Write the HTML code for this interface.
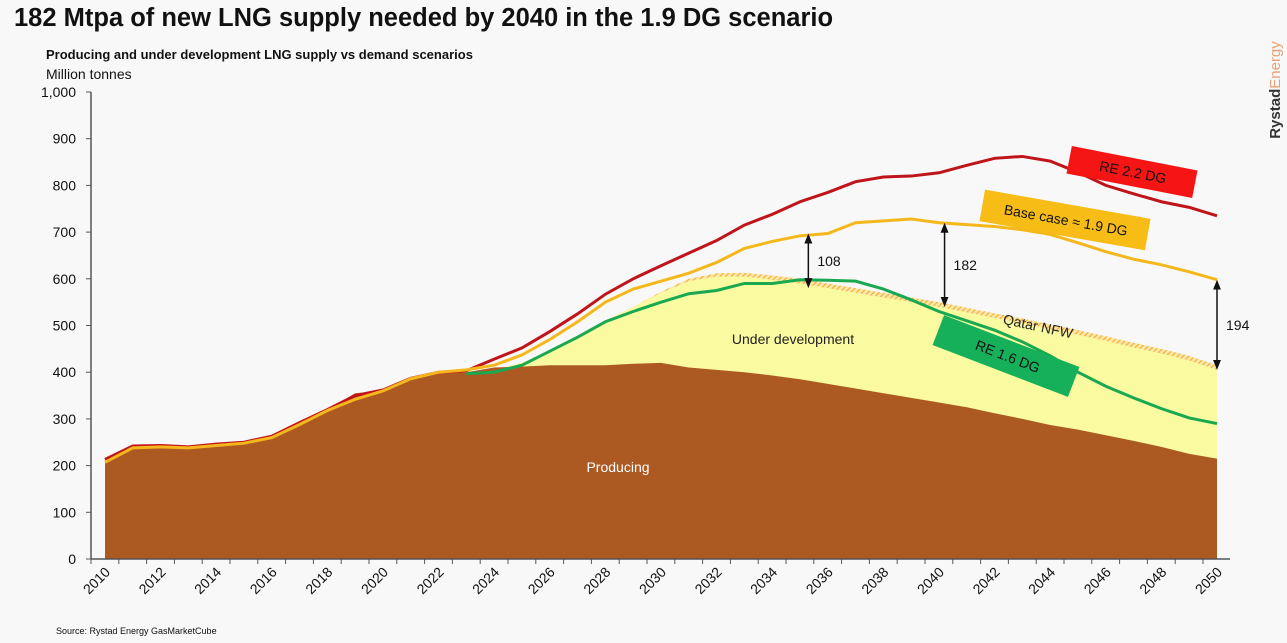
<!DOCTYPE html>
<html><head><meta charset="utf-8"><style>
body{margin:0;background:#f8f8f8;font-family:"Liberation Sans",sans-serif;}
svg text{font-family:"Liberation Sans",sans-serif;}
</style></head><body>
<svg id="chart" width="1287" height="638" xmlns="http://www.w3.org/2000/svg">
<defs><pattern id="hatch" width="4" height="4" patternUnits="userSpaceOnUse" patternTransform="rotate(45)"><rect width="4" height="4" fill="#fbe7a8"/><line x1="0" y1="0" x2="0" y2="4" stroke="#f5a623" stroke-width="2"/></pattern>
<marker id="ah" markerWidth="10" markerHeight="10" refX="5" refY="5" orient="auto-start-reverse" markerUnits="userSpaceOnUse"><path d="M0,1 L10,5 L0,9 z" fill="#111"/></marker></defs>
<text x="14" y="26" font-size="25.5" font-weight="bold" fill="#111">182 Mtpa of new LNG supply needed by 2040 in the 1.9 DG scenario</text>
<text x="46" y="59" font-size="13" font-weight="bold" fill="#111">Producing and under development LNG supply vs demand scenarios</text>
<text x="46" y="79" font-size="14" fill="#111">Million tonnes</text>
<text x="1280" y="90" font-size="15" font-weight="bold" fill="#555" transform="rotate(-90 1280 90)" text-anchor="middle"><tspan fill="#333">Rystad</tspan><tspan fill="#e8a27a" font-weight="normal">Energy</tspan></text>
<text x="56" y="634" font-size="9" fill="#111">Source: Rystad Energy GasMarketCube</text>
<g id="plot"></g>
</svg>
<script>
const years=[];for(let y=2010;y<=2050;y++)years.push(y);
const producing=[210,240,240,240,245,250,262,290,320,355,360,385,398,400,410,412,415,415,415,418,420,410,405,400,393,385,375,365,355,345,335,325,312,300,287,277,265,253,240,225,215];
const totalSupply=[210,240,240,240,245,250,262,290,320,355,360,385,398,400,405,420,445,475,510,540,570,595,605,605,598,590,580,570,560,550,540,528,516,505,492,480,467,453,440,425,405];
const qatarNfw=[0,0,0,0,0,0,0,0,0,0,0,0,0,0,0,0,0,0,0,0,2,5,7,8,9,10,10,10,10,10,10,10,10,10,10,10,10,10,10,10,10];
const re22=[213,242,243,240,246,250,263,292,320,350,362,387,400,403,428,452,487,525,567,600,628,655,682,715,738,765,785,808,818,820,827,843,858,862,852,828,800,782,765,753,735];
const baseCase=[207,238,240,238,243,248,260,288,318,342,360,386,400,405,415,437,470,508,550,578,595,612,635,665,680,692,697,720,724,728,720,716,712,705,695,677,658,642,630,615,598];
const re16Years=[2023,2024,2025,2026,2027,2028,2029,2030,2031,2032,2033,2034,2035,2036,2037,2038,2039,2040,2041,2042,2043,2044,2045,2046,2047,2048,2049,2050];
const re16=[397,400,415,445,475,508,530,550,568,575,590,590,598,597,595,578,555,530,510,490,465,435,400,370,345,322,302,290];
const yTicks=[0,100,200,300,400,500,600,700,800,900,1000];
const yTickLabels=["0","100","200","300","400","500","600","700","800","900","1,000"];
const gapYears=[2035.3,2040.2,2050];
const gapLow=[580,540,405];
const gapHigh=[697,720,598];
const gapLabels=["108","182","194"];

const NS="http://www.w3.org/2000/svg";
const X=y=>105+(y-2010)*27.8;
const Y=v=>559-v*0.467;
const g=document.getElementById('plot');
function el(t,a){const e=document.createElementNS(NS,t);for(const k in a)e.setAttribute(k,a[k]);g.appendChild(e);return e;}
function pts(xs,vs){return xs.map((x,i)=>X(x)+','+Y(vs[i])).join(' ');}
let e=el('polygon',{points:pts(years,totalSupply.map((v,i)=>v+qatarNfw[i]))+' '+X(2050)+','+Y(0)+' '+X(2010)+','+Y(0),fill:'url(#hatch)'});


e=el('polygon',{points:pts(years,totalSupply)+' '+X(2050)+','+Y(0)+' '+X(2010)+','+Y(0),fill:'#fafaa0'});


e=el('polygon',{points:pts(years,producing)+' '+X(2050)+','+Y(0)+' '+X(2010)+','+Y(0),fill:'#ad5a22'});


e=el('line',{x1:91,y1:Y(0),x2:1230,y2:Y(0),stroke:'#555','stroke-width':1.5});


e=el('line',{x1:91,y1:Y(1000),x2:91,y2:Y(0),stroke:'#555','stroke-width':1.5});


yTicks.forEach((t,i)=>{
 el('line',{x1:86,y1:Y(t),x2:91,y2:Y(t),stroke:'#555'});
 const tx=el('text',{x:76,y:Y(t)+5,'font-size':14,'text-anchor':'end',fill:'#111'});tx.textContent=yTickLabels[i];
 
 
});
years.forEach(y=>{
 el('line',{x1:X(y)-14,y1:Y(0),x2:X(y)-14,y2:Y(0)+5,stroke:'#555'});
 if((y-2010)%2===0){const tx=el('text',{x:X(y)+6,y:Y(0)+14,'font-size':14,'text-anchor':'end',fill:'#111',transform:`rotate(-45 ${X(y)+6} ${Y(0)+14})`});tx.textContent=y;
 
 }
});
e=el('polyline',{points:pts(years,re22),fill:'none',stroke:'#c0141b','stroke-width':3});


e=el('polyline',{points:pts(years,baseCase),fill:'none',stroke:'#f5b81c','stroke-width':3});


e=el('polyline',{points:pts(re16Years,re16),fill:'none',stroke:'#1aa850','stroke-width':3});


gapYears.forEach((gy,i)=>{
 const x=X(gy);
 e=el('line',{x1:x,y1:Y(gapLow[i])-5,x2:x,y2:Y(gapHigh[i])+5,stroke:'#111','stroke-width':1.5,'marker-start':'url(#ah)','marker-end':'url(#ah)'});
 
 
 const tx=el('text',{x:x+9,y:(Y(gapLow[i])+Y(gapHigh[i]))/2+5,'font-size':14,fill:'#111'});tx.textContent=gapLabels[i];
 
 
});
function lab(t,x,y,name,fs,c,rot){const tx=el('text',{x:x,y:y,'font-size':fs||14,fill:c||'#111','text-anchor':'middle',transform:rot?`rotate(${rot} ${x} ${y})`:''});tx.textContent=t;


return tx;}
lab('Producing',618,472,'producing-label',14,'#fff');
lab('Under development',793,344,'under-development-label',14,'#222');
lab('Qatar NFW',1037,331,'qatar-nfw-label',14,'#222',12);
function box(cx,cy,w,h,rot,fill,name,txt){const r=el('rect',{x:cx-w/2,y:cy-h/2,width:w,height:h,fill:fill,transform:`rotate(${rot} ${cx} ${cy})`});


lab(txt,cx,cy+5,name+'-text',14,'#111',rot);}
box(1132,172,128,28,11,'#f51515','re-2-2-dg-tag','RE 2.2 DG');
box(1065,220,168,32,10,'#f7bd16','base-case-tag','Base case ≈ 1.9 DG');
box(1006,356,145,32,21,'#17b05a','re-1-6-dg-tag','RE 1.6 DG');
</script>
</body></html>
